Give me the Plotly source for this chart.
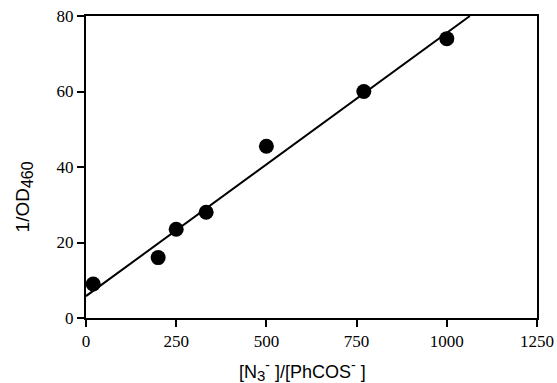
import plotly.graph_objects as go

x_ratio = [20, 200, 250, 333, 500, 770, 1000]
inv_od = [9, 16, 23.5, 28, 45.5, 60, 74]
fit_x = [0, 1064]
fit_y = [5.8, 80]
x_ticks = [0, 250, 500, 750, 1000, 1250]
y_ticks = [0, 20, 40, 60, 80]

fig = go.Figure()
fig.add_trace(go.Scatter(x=fit_x, y=fit_y, mode="lines",
                         line=dict(color="black", width=2), showlegend=False))
fig.add_trace(go.Scatter(x=x_ratio, y=inv_od, mode="markers",
                         marker=dict(color="black", size=15), showlegend=False))

tickfont = dict(family="Liberation Serif", size=17, color="black")
axis_common = dict(ticks="outside", ticklen=7, tickwidth=1.5, tickcolor="black",
                   showline=True, linecolor="black", linewidth=2, mirror=True,
                   showgrid=False, zeroline=False, tickfont=tickfont,
                   automargin=False, ticklabeloverflow="allow")
fig.update_layout(
    width=557, height=383,
    margin=dict(l=86, r=20, t=16, b=65),
    paper_bgcolor="white", plot_bgcolor="white",
    xaxis=dict(range=[0, 1250], tickvals=x_ticks, **axis_common),
    yaxis=dict(range=[0, 80], tickvals=y_ticks, **axis_common),
    annotations=[
        dict(text="[N<sub><span style='font-size:15px'>3</span></sub>"
                  "<sup><span style='font-size:14px'>-</span></sup> ]/[PhCOS"
                  "<sup><span style='font-size:14px'>-</span></sup> ]",
             xref="paper", yref="paper", x=0.48, y=-0.174,
             xanchor="center", yanchor="middle", showarrow=False,
             font=dict(family="Liberation Sans", size=18, color="black")),
        dict(text="1/OD<sub><span style='font-size:16px'>460</span></sub>",
             textangle=-90,
             xref="paper", yref="paper", x=-0.137, y=0.40,
             xanchor="center", yanchor="middle", showarrow=False,
             font=dict(family="Liberation Sans", size=19, color="black")),
    ],
)
fig.write_html("out.html", config={"displayModeBar": False},
               post_script="document.body.style.margin='0';document.body.style.overflow='hidden';")
